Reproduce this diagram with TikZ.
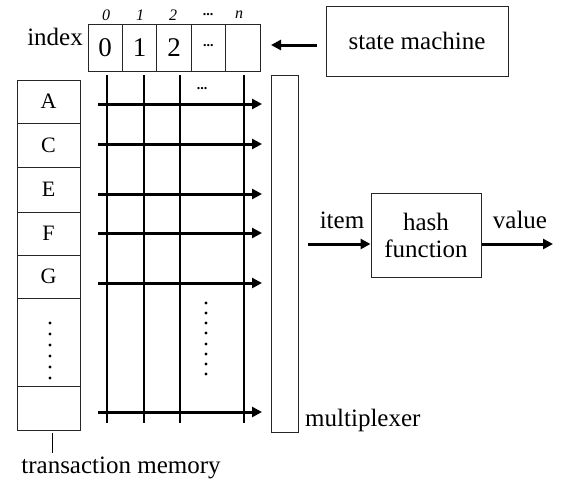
\documentclass[tikz,border=0pt]{standalone}
\usepackage{fontspec}
\setmainfont{Liberation Serif}
\usetikzlibrary{arrows.meta}
\begin{document}
\begin{tikzpicture}[x=1pt,y=-1pt,
  box/.style={draw=black!85, line width=1pt, inner sep=0pt},
  cell/.style={box, minimum width=34.4pt, minimum height=47pt, font=\fontsize{27}{27}\selectfont},
  mcell/.style={box, minimum width=63pt, font=\fontsize{22}{22}\selectfont},
  lbl/.style={inner sep=0pt, font=\fontsize{25}{25}\selectfont},
  toplbl/.style={inner sep=0pt, font=\fontsize{16}{16}\selectfont\itshape},
  gridline/.style={line width=2.6pt},
  arr/.style={line width=3pt, -{Triangle[length=10pt,width=10pt]}},
  dot/.style={circle, fill=black, inner sep=0pt, minimum size=3.2pt}
]
\useasboundingbox (0,0) rectangle (562,485);
% index array
\node[cell] (c0) at (105.2,47.5) {0};
\node[cell] (c1) at (139.6,47.5) {1};
\node[cell] (c2) at (174.0,47.5) {2};
\node[cell, font=\fontsize{14}{14}\selectfont\bfseries] (c3) at (208.4,47.5) {\raisebox{4pt}{...}};
\node[cell] (c4) at (242.8,47.5) {};
\node[toplbl] (t0) at (106,15) {0};
\node[toplbl] (t1) at (140,15) {1};
\node[toplbl] (t2) at (173,15) {2};
\node[toplbl, font=\fontsize{14}{14}\selectfont\bfseries] (t3) at (208,15) {...};
\node[toplbl] (t4) at (239,15) {n};
\node[lbl, anchor=east] (idx) at (83,37) {index};
% state machine
\node[box, minimum width=182pt, minimum height=70pt, lbl] (sm) at (417,41) {state machine};
\draw[arr] (317,45) coordinate (smA) -- (271,45) coordinate (smB);
% multiplexer
\node[box, minimum width=27pt, minimum height=357pt] (mux) at (284.5,253.5) {};
\node[lbl, anchor=west] (muxl) at (305,420) {multiplexer};
% hash function
\node[box, minimum width=110pt, minimum height=84pt, lbl, align=center] (hf) at (426,235) {hash\\[2pt]function};
\node[lbl] (item) at (342,220) {item};
\node[lbl] (val) at (520,220) {value};
\draw[arr] (308,244) coordinate (iA) -- (hf.west |- 0,244);
\draw[arr] (hf.east |- 0,244) -- (553,244) coordinate (vB);
% transaction memory
\node[mcell, minimum height=43pt] (mA) at (48.5,101.5) {A};
\node[mcell, minimum height=44pt] (mC) at (48.5,145) {C};
\node[mcell, minimum height=45pt] (mE) at (48.5,189.5) {E};
\node[mcell, minimum height=43pt] (mF) at (48.5,233.5) {F};
\node[mcell, minimum height=43pt] (mG) at (48.5,276.5) {G};
\node[mcell, minimum height=88pt] (mD) at (48.5,342) {};
\node[mcell, minimum height=44pt] (mL) at (48.5,408) {};
\foreach \y in {323,334,345,356,367,378} \node[dot] at (50,\y) {};
\draw[line width=0.8pt] (52,433) -- (52,453);
\node[lbl] (tm) at (121,468) {transaction memory};
% grid
\foreach \x in {107,144,180,244} \draw[gridline] (\x,75) -- (\x,423);
\foreach \y in {104,144,194,233,283,412} \draw[arr] (98,\y) -- (262,\y);
\node[inner sep=0pt, font=\fontsize{14}{14}\selectfont\bfseries] at (202,89) {...};
\foreach \y in {303,313,323,333,344,354,364,374} \node[dot] at (206,\y) {};
\end{tikzpicture}
\end{document}
